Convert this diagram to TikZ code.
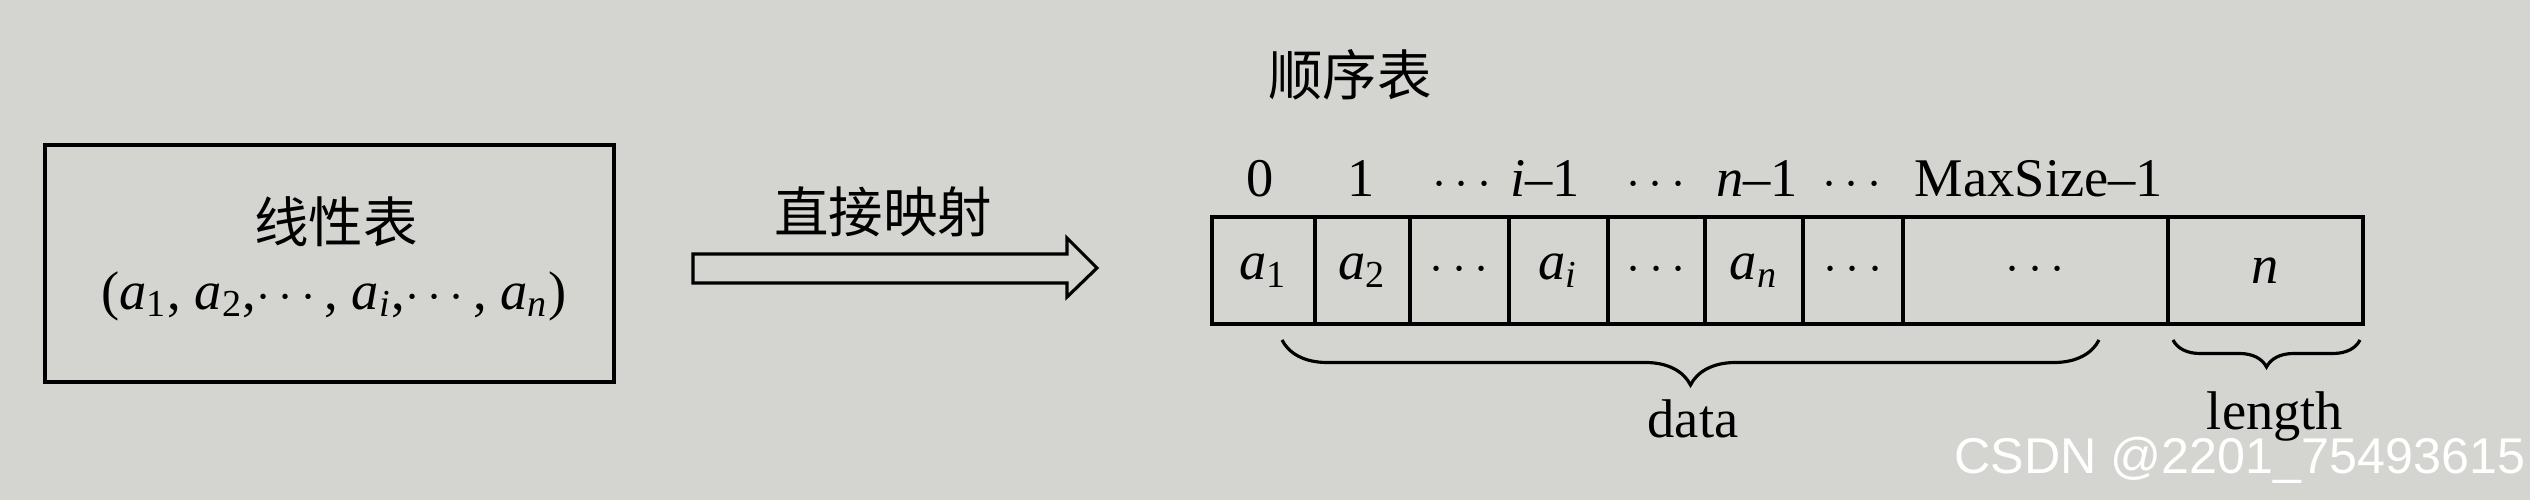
\documentclass[tikz,border=0pt]{standalone}
\usepackage{fontspec}
\setmainfont{Liberation Serif}
\newfontfamily\cjk{Noto Sans CJK SC}
\newfontfamily\wmfont{Liberation Sans}
\usepackage{tikz}
\usetikzlibrary{positioning}
\usetikzlibrary{decorations.pathreplacing}
\definecolor{paper}{RGB}{212,212,209}
\tikzstyle{listbox}=[rectangle,draw,line width=0.9pt,minimum width=5.69cm,minimum height=2.37cm,inner sep=0pt]
\tikzstyle{cell}=[rectangle,draw,line width=0.9pt,minimum height=1.07cm,inner sep=0pt,outer sep=0pt]
\tikzstyle{idx}=[anchor=base,inner sep=0pt]
\tikzstyle{caption}=[font=\cjk\fontsize{15.5}{18}\selectfont,inner sep=0pt]
\tikzstyle{brace}=[decorate,decoration={brace,mirror},line width=0.9pt]
\newcommand{\elem}[1]{\textit{a}\textsubscript{#1}}

\begin{document}
\begin{tikzpicture}[font=\fontsize{15.5}{18}\selectfont]
    \fill[paper] (0,0) rectangle (25.3,-5);
    \useasboundingbox (0,0) rectangle (25.3,-5);

    % the linear list
    \node[listbox] (linear) at (3.295,-2.635) {};
    \node[caption] (lname) at (3.36,-2.22) {线性表};
    \node[inner sep=0pt] (ltuple) at (3.34,-2.96) {(\elem{1}, \elem{2},$\cdots$\,, \elem{\textit{i}},$\cdots$\,, \elem{\textit{n}})};

    % the mapping arrow
    \draw[line width=0.9pt] (6.93,-2.54) -- (10.67,-2.54) -- (10.67,-2.38) -- (10.97,-2.68)
        -- (10.67,-2.97) -- (10.67,-2.83) -- (6.93,-2.83) -- cycle;
    \node[caption] (mapname) at (8.83,-2.12) {直接映射};

    % the sequential list: first the cells
    \node[caption] (seqname) at (13.50,-0.75) {顺序表};
    \foreach \x/\w/\name/\val in {12.635/1.03/c1/{\elem{1}}, 13.625/0.95/c2/{\elem{2}},
            14.595/0.99/c3/{$\cdots$}, 15.585/0.99/c4/{\elem{\textit{i}}}, 16.565/0.97/c5/{$\cdots$},
            17.54/0.98/c6/{\elem{\textit{n}}}, 18.53/1.00/c7/{$\cdots$}, 20.355/2.65/c8/{$\cdots$},
            22.655/1.95/c9/{\textit{n}}}
        \node[cell, minimum width=\w cm] (\name) at (\x,-2.705) {\val};

    % then the indices above them
    \foreach \ix/\lab [count=\k] in {12.60/0, 13.61/1, 14.62/{$\cdots$}, 15.45/{\textit{i}--1},
            16.56/{$\cdots$}, 17.57/{\textit{n}--1}, 18.52/{$\cdots$}, 20.39/{MaxSize--1}}
        \node[idx] (idx\k) at (\ix,-1.97) {\lab};

    % braces under the cells
    \coordinate (dataL) at (12.82,-3.40);
    \coordinate (dataR) at (20.99,-3.40);
    \coordinate (lenL) at (21.73,-3.40);
    \coordinate (lenR) at (23.60,-3.40);
    \draw[brace, decoration={amplitude=0.45cm}] (dataL) -- (dataR);
    \draw[brace, decoration={amplitude=0.27cm}] (lenL) -- (lenR);
    \node[anchor=base] (datalabel) at (16.93,-4.38) {data};
    \node[anchor=base] (lenlabel) at (22.75,-4.30) {length};

    \node[font=\wmfont\fontsize{14.3}{16}\selectfont, text=white] (mark) at (22.40,-4.60) {CSDN @2201\_75493615};
\end{tikzpicture}
\end{document}
